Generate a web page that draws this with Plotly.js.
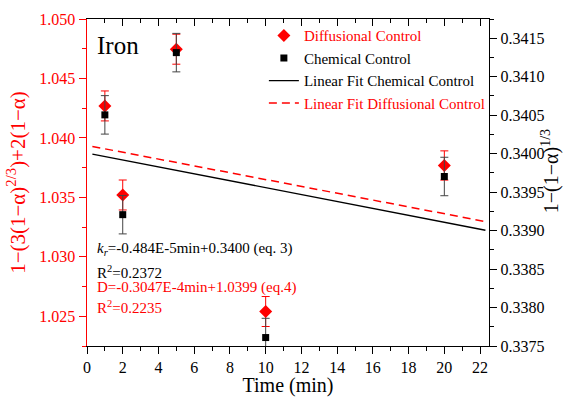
<!DOCTYPE html>
<html>
<head>
<meta charset="utf-8">
<script src="https://cdn.plot.ly/plotly-3.0.1.min.js"></script>
</head>
<body style="margin:0;font-family:'Liberation Serif'">
<div id="chart"></div>
<script>
// ---- data ----
const timeMin = [1, 2, 5, 10, 20];
const diffusional = [1.04269, 1.03520, 1.04746, 1.02540, 1.03768];   // left axis
const diffusionalErr = [0.00126, 0.00126, 0.00126, 0.00126, 0.00123];
const chemical = [0.340504, 0.339207, 0.341313, 0.337610, 0.339703];  // right axis
const chemicalErr = [0.00025, 0.00025, 0.00025, 0.00025, 0.00025];
// fitted lines as drawn in the reference
const fitRange = [0.3, 22.3];
const chemSlope = -4.5e-5, chemIntercept = 0.340008;
const diffSlope = -2.873e-4, diffIntercept = 1.03937;
const xTicks = [0, 2, 4, 6, 8, 10, 12, 14, 16, 18, 20, 22];

const chemFitY = fitRange.map(t => chemIntercept + chemSlope * t);
const diffFitY = fitRange.map(t => diffIntercept + diffSlope * t);

const FONT = 'Liberation Serif';
const RED = '#ff0000';

const traces = [
  {x: fitRange, y: chemFitY, xaxis: 'x', yaxis: 'y2', type: 'scatter', mode: 'lines',
   line: {color: '#000', width: 1.3}, name: 'Linear Fit Chemical Control', legendrank: 3, hoverinfo: 'skip'},
  {x: fitRange, y: diffFitY, xaxis: 'x', yaxis: 'y', type: 'scatter', mode: 'lines',
   line: {color: RED, width: 1.5, dash: '8px,5px'},
   name: '<span style="color:#ff0000">Linear Fit Diffusional Control</span>', legendrank: 4, hoverinfo: 'skip'},
  {x: timeMin, y: diffusional, xaxis: 'x', yaxis: 'y', type: 'scatter', mode: 'markers',
   marker: {symbol: 'diamond', color: RED, size: 10},
   error_y: {type: 'data', array: diffusionalErr, color: RED, thickness: 1, width: 4},
   name: '<span style="color:#ff0000">Diffusional Control</span>', legendrank: 1},
  {x: timeMin, y: chemical, xaxis: 'x', yaxis: 'y2', type: 'scatter', mode: 'markers',
   marker: {symbol: 'square', color: '#000', size: 7},
   error_y: {type: 'data', array: chemicalErr, color: '#444', thickness: 1, width: 4},
   name: 'Chemical Control', legendrank: 2},
  {x: [null], y: [null], xaxis: 'x2', yaxis: 'y', type: 'scatter', mode: 'markers',
   showlegend: false, hoverinfo: 'skip'}
];

const layout = {
  width: 564, height: 397,
  margin: {l: 87, r: 75, t: 19, b: 51, pad: 0},
  paper_bgcolor: '#fff', plot_bgcolor: '#fff',
  showlegend: true,
  legend: {x: 0.44, y: 0.999, xanchor: 'left', yanchor: 'top', bgcolor: 'rgba(0,0,0,0)',
           font: {family: FONT, size: 15, color: '#000'}, tracegroupgap: 0, itemwidth: 30},
  xaxis: {range: [0, 22.5], tickvals: xTicks, ticks: 'outside', ticklen: 7, tickwidth: 1,
          tickcolor: '#000', showline: true, linecolor: '#000', linewidth: 1.2,
          showgrid: false, zeroline: false,
          minor: {dtick: 1, tick0: 0, ticks: 'outside', ticklen: 4, tickcolor: '#000', showgrid: false},
          tickfont: {family: FONT, size: 16, color: '#000'},
          title: {text: 'Time (min)', font: {family: FONT, size: 20, color: '#000'}, standoff: 7}},
  xaxis2: {overlaying: 'x', side: 'top', range: [0, 22.5], tickvals: xTicks, ticks: 'inside',
           ticklen: 7, tickcolor: '#000', showline: true, linecolor: '#000', linewidth: 1.2,
           showticklabels: false, showgrid: false, zeroline: false,
           minor: {dtick: 1, tick0: 0, ticks: 'inside', ticklen: 4, tickcolor: '#000', showgrid: false}},
  yaxis: {range: [1.0225, 1.050], tick0: 1.025, dtick: 0.005, tickformat: '.3f',
          ticks: 'outside', ticklen: 7, tickcolor: RED, showline: true, linecolor: RED, linewidth: 1.5,
          showgrid: false, zeroline: false,
          minor: {dtick: 0.0025, tick0: 1.025, ticks: 'outside', ticklen: 4, tickcolor: RED, showgrid: false},
          tickfont: {family: FONT, size: 16, color: RED},
          title: {text: '1\u2212(3(1\u2212\u03b1)<sup>2/3</sup>)+2(1\u2212\u03b1)',
                  font: {family: FONT, size: 21, color: RED}, standoff: 8}},
  yaxis2: {overlaying: 'y', side: 'right', range: [0.3375, 0.34175], tick0: 0.3375, dtick: 0.0005,
           tickformat: '.4f', ticks: 'outside', ticklen: 7, tickcolor: '#000',
           showline: true, linecolor: '#000', linewidth: 1.2, showgrid: false, zeroline: false,
           minor: {dtick: 0.00025, tick0: 0.3375, ticks: 'outside', ticklen: 4, tickcolor: '#000', showgrid: false},
           tickfont: {family: FONT, size: 16, color: '#000'}},
  annotations: [
    {xref: 'paper', yref: 'paper', x: 1.152, y: 0.535, xanchor: 'center', yanchor: 'middle', showarrow: false,
     textangle: -90, text: '1\u2212(1\u2212\u03b1)<sup>1/3</sup>', font: {family: FONT, size: 20, color: '#000'}},
    {xref: 'paper', yref: 'paper', x: 0.02, y: 0.92, xanchor: 'left', yanchor: 'middle', showarrow: false,
     text: 'Iron', font: {family: FONT, size: 25, color: '#000'}},
    {xref: 'paper', yref: 'paper', x: 0.02, y: 0.297, xanchor: 'left', yanchor: 'middle', showarrow: false,
     text: '<i>k<sub>r</sub></i>=-0.484E-5min+0.3400 (eq. 3)', font: {family: FONT, size: 15, color: '#000'}},
    {xref: 'paper', yref: 'paper', x: 0.02, y: 0.227, xanchor: 'left', yanchor: 'middle', showarrow: false,
     text: 'R<sup>2</sup>=0.2372', font: {family: FONT, size: 15, color: '#000'}},
    {xref: 'paper', yref: 'paper', x: 0.02, y: 0.18, xanchor: 'left', yanchor: 'middle', showarrow: false,
     text: 'D=-0.3047E-4min+1.0399 (eq.4)', font: {family: FONT, size: 15, color: RED}},
    {xref: 'paper', yref: 'paper', x: 0.02, y: 0.118, xanchor: 'left', yanchor: 'middle', showarrow: false,
     text: 'R<sup>2</sup>=0.2235', font: {family: FONT, size: 15, color: RED}}
  ]
};

Plotly.newPlot('chart', traces, layout, {displayModeBar: false, staticPlot: true});
</script>
</body>
</html>
